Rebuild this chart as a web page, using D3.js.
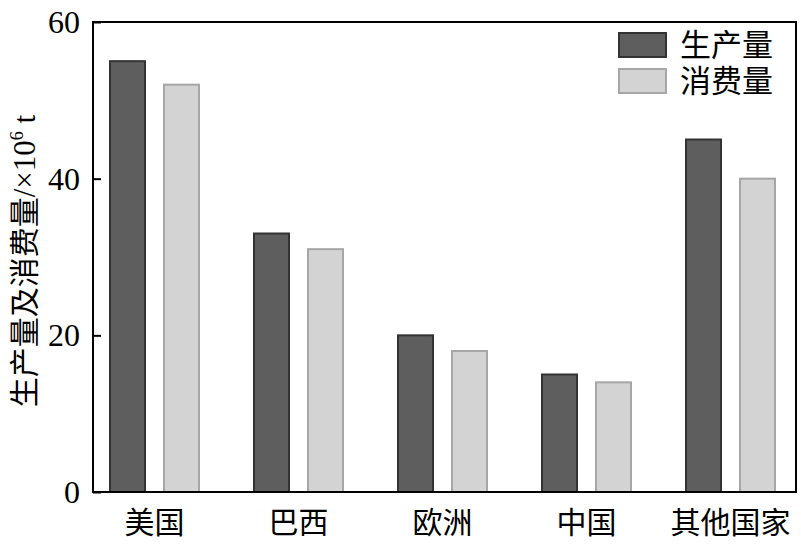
<!DOCTYPE html>
<html><head><meta charset="utf-8">
<script src="https://cdn.jsdelivr.net/npm/d3@7"></script>
<style>body{margin:0;background:#fff}</style>
</head><body>
<svg id="c" width="801" height="553"></svg>
<script>
const categories = ["美国","巴西","欧洲","中国","其他国家"];
const seriesNames = ["生产量","消费量"];
const production = [55, 33, 20, 15, 45];
const consumption = [52, 31, 18, 14, 40];
const yTicks = [0, 20, 40, 60];

const svg = d3.select("#c");
const L = 93, R = 796, T = 22, B = 492;
const fills = ["#5e5e5e", "#d3d3d3"];
const strokes = ["#333333", "#a6a6a6"];
const serif = "'Liberation Serif','Times New Roman',serif";
const cjk = "'Noto Sans CJK SC','Noto Sans CJK JP',sans-serif";

const y = d3.scaleLinear().domain([0, 60]).range([B, T]);
const x = d3.scaleBand().domain(categories).range([82.5, 802.5]).padding(0);
const xs = d3.scaleBand().domain(seriesNames).range([27.5, 116.5]).paddingInner(0.352).paddingOuter(0);

const data = categories.map((c, i) => ({c, vals: [production[i], consumption[i]]}));

const g = svg.append("g");
data.forEach(d => {
  d.vals.forEach((v, j) => {
    g.append("rect")
      .attr("x", x(d.c) + xs(seriesNames[j]))
      .attr("y", y(v))
      .attr("width", xs.bandwidth())
      .attr("height", B - y(v))
      .attr("fill", fills[j])
      .attr("stroke", strokes[j])
      .attr("stroke-width", 2);
  });
});

// frame
svg.append("rect").attr("x", L).attr("y", T).attr("width", R - L).attr("height", B - T)
  .attr("fill", "none").attr("stroke", "#000").attr("stroke-width", 2);

// y axis
const yAxis = d3.axisRight(y).tickValues(yTicks).tickSize(8).tickFormat(d3.format("d"));
const ya = svg.append("g").attr("transform", `translate(${L},0)`).call(yAxis);
ya.select(".domain").remove();
ya.selectAll(".tick line").attr("stroke", "#000").attr("stroke-width", 2);
ya.selectAll(".tick text").attr("x", -13).attr("dy", "0.33em").attr("text-anchor", "end")
  .style("font-family", serif).style("font-size", "32px").attr("fill", "#000");

// x labels
const xa = svg.append("g").attr("transform", `translate(0,${B})`)
  .call(d3.axisBottom(x).tickSize(0));
xa.select(".domain").remove();
xa.selectAll(".tick text").attr("y", 30).attr("dy", "0.36em")
  .style("font-family", cjk).style("font-size", "30px").attr("fill", "#000");

// y title
const yt = svg.append("text")
  .attr("transform", `translate(35,261) rotate(-90)`)
  .attr("text-anchor", "middle")
  .style("font-size", "30px").attr("fill", "#000");
yt.append("tspan").style("font-family", cjk).text("生产量及消费量");
yt.append("tspan").style("font-family", serif).style("font-size", "31px").text("/×10");
yt.append("tspan").style("font-family", serif).style("font-size", "18px").attr("dy", "-12").text("6");
yt.append("tspan").style("font-family", serif).style("font-size", "31px").attr("dy", "12").text(" t");

// legend
const lg = svg.append("g");
const lgText = lg.append("text")
  .style("font-family", cjk).style("font-size", "31px").attr("fill", "#000");
seriesNames.forEach((s, j) => {
  const yy = 33 + j * 36;
  lg.append("rect").attr("x", 619).attr("y", yy).attr("width", 47).attr("height", 24)
    .attr("fill", fills[j]).attr("stroke", strokes[j]).attr("stroke-width", 2);
  lgText.append("tspan").attr("x", 680).attr("y", yy + 12 + 11).text(s);
});
</script>
</body></html>
